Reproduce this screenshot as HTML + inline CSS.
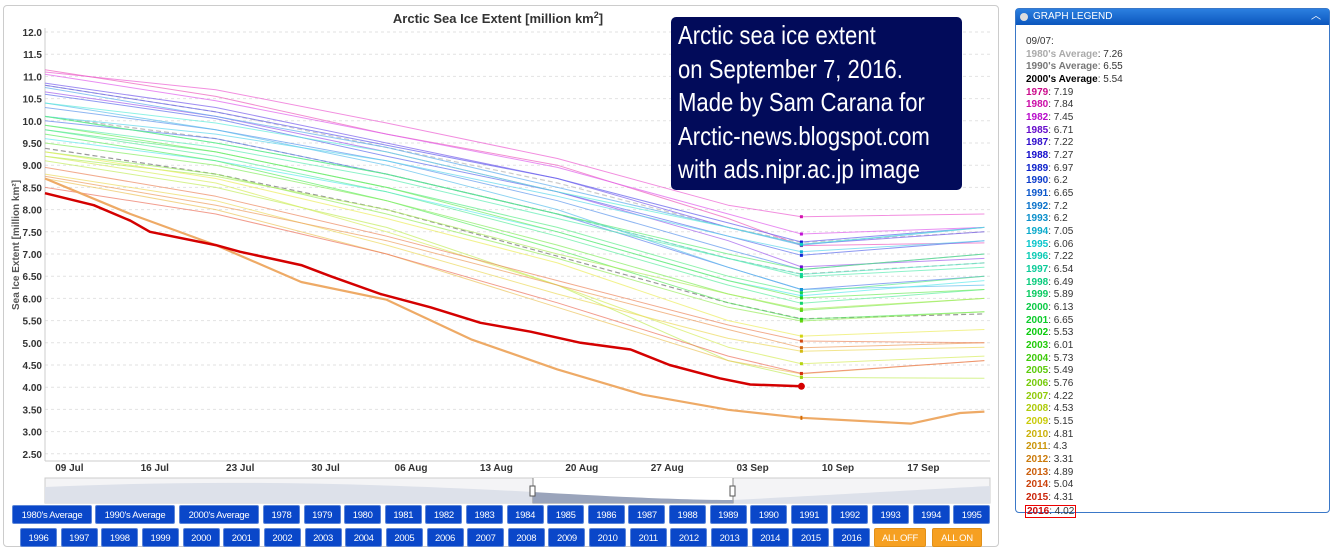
<!DOCTYPE html>
<html><head><meta charset="utf-8"><style>
body{margin:0;width:1340px;height:550px;background:#fff;font-family:"Liberation Sans",sans-serif;overflow:hidden;position:relative}
.btn{position:absolute;height:19px;background:#0a47c9;border:1px solid #5c86d8;border-radius:2px;color:#fff;font-size:9.5px;line-height:19px;text-align:center;box-sizing:border-box;letter-spacing:-0.3px}
.btn.or{background:#f6a021;border-color:#e0901a}
#legend{position:absolute;left:1015px;top:8px;width:315px;height:505px;border:1px solid #3a78c8;border-radius:4px;box-sizing:border-box}
#lhead{height:16px;background:linear-gradient(#2b7fe0,#0b56bd);color:#fff;font-size:10px;line-height:16px;padding-left:17px}
.li{position:absolute;left:10px;font-size:10px;color:#333;white-space:nowrap}
.li b{font-weight:bold}
#note{position:absolute;left:671px;top:17px;width:291px;height:173px;background:#020b5a;border-radius:5px;color:#fff;box-sizing:border-box;overflow:hidden}
#note div{position:absolute;left:7px;top:2px;font-size:26px;line-height:33.5px;white-space:nowrap;transform:scaleX(0.85);transform-origin:0 0}
</style></head><body>
<div style="position:absolute;left:3px;top:5px;width:996px;height:542px;border:1px solid #ccc;border-radius:4px;box-sizing:border-box"></div>
<svg id="chart" width="1000" height="505" style="position:absolute;left:0;top:0">
<text x="498" y="23" text-anchor="middle" font-size="13" font-weight="bold" fill="#333">Arctic Sea Ice Extent [million km<tspan dy="-5" font-size="9">2</tspan><tspan dy="5">]</tspan></text>
<text transform="translate(19,245) rotate(-90)" text-anchor="middle" font-size="10" font-weight="bold" fill="#555">Sea Ice Extent [million km²]</text>
<g id="grid"></g><g id="series"></g><g id="xlabels"></g>
<g>
<rect x="45" y="478" width="945" height="25" fill="#f4f4f6" stroke="#ccc"/>
<path d="M45,487 C200,480 350,482 533,492 L733,500 C850,494 950,488 990,486 L990,503 L45,503Z" fill="#dde1ea"/>
<path d="M533,478 L533,503 L733,503 L733,478" fill="#fff" stroke="#888"/>
<path d="M533,492 C600,496 680,500 733,500 L733,503 L533,503Z" fill="#9aa4bb"/>
<rect x="530" y="486" width="5" height="10" fill="#fff" stroke="#555"/><rect x="730" y="486" width="5" height="10" fill="#fff" stroke="#555"/>
</g>
</svg>
<div id="note"><div>Arctic sea ice extent<br>on September 7, 2016.<br>Made by Sam Carana for<br>Arctic-news.blogspot.com<br>with ads.nipr.ac.jp image</div></div>
<div id="buttons"></div>
<div id="legend"><div id="lhead">GRAPH LEGEND<span style="position:absolute;right:8px;top:0">︿</span><span style="position:absolute;left:4px;top:4px;width:8px;height:8px;border-radius:50%;background:#ddd"></span></div></div>
<script>
const NS='http://www.w3.org/2000/svg';
const yTicks=[12.0,11.5,11.0,10.5,10.0,9.5,9.0,8.5,8.0,7.5,7.0,6.5,6.0,5.5,5.0,4.5,4.0,3.5,3.0,2.5];
const yTickLabels=["12.0","11.5","11.0","10.5","10.0","9.50","9.00","8.50","8.00","7.50","7.00","6.50","6.00","5.50","5.00","4.50","4.00","3.50","3.00","2.50"];
const xTickLabels=["09 Jul","16 Jul","23 Jul","30 Jul","06 Aug","13 Aug","20 Aug","27 Aug","03 Sep","10 Sep","17 Sep"];
const xTickDays=[2,9,16,23,30,37,44,51,58,65,72];
const baseDays=[0,14,28,42,56,62,77];
const years=[1979,1980,1982,1985,1987,1988,1989,1990,1991,1992,1993,1994,1995,1996,1997,1998,1999,2000,2001,2002,2003,2004,2005,2006,2007,2008,2009,2010,2011,2013,2014,2015];
const yearValues=[
[11.15,10.55,9.7,9.0,7.8,7.19,7.25],[11.1,10.7,9.95,9.15,8.1,7.84,7.9],[11.05,10.45,9.7,8.95,7.9,7.45,7.6],
[10.65,10.1,9.3,8.4,7.3,6.71,6.9],[10.85,10.3,9.5,8.7,7.6,7.22,7.5],[10.8,10.2,9.45,8.7,7.7,7.27,7.6],
[10.6,10.05,9.2,8.4,7.4,6.97,7.3],[10.0,9.6,8.8,7.9,6.7,6.2,6.5],[10.3,9.8,9.1,8.2,7.1,6.65,7.0],
[10.75,10.1,9.4,8.5,7.6,7.2,7.6],[10.4,9.8,9.0,8.0,6.7,6.2,6.3],[10.1,9.7,9.1,8.3,7.4,7.05,7.3],
[9.6,9.1,8.4,7.5,6.4,6.06,6.4],[10.4,9.95,9.3,8.4,7.6,7.22,7.6],[10.1,9.5,8.8,7.9,6.9,6.54,6.8],
[9.9,9.4,8.7,7.8,6.9,6.49,6.7],[9.8,9.2,8.4,7.4,6.3,5.89,6.2],[9.8,9.3,8.5,7.6,6.5,6.13,6.5],
[10.1,9.5,8.8,7.9,7.0,6.65,7.0],[9.7,9.1,8.2,7.1,5.9,5.53,5.7],[9.9,9.3,8.5,7.5,6.4,6.01,6.2],
[9.5,9.0,8.2,7.2,6.1,5.73,6.0],[9.3,8.8,7.9,6.9,5.8,5.49,5.7],[9.2,8.75,8.0,7.0,6.1,5.76,6.0],
[9.1,8.5,7.6,6.3,4.6,4.22,4.2],[9.2,8.6,7.5,6.3,4.9,4.53,4.7],[9.3,8.7,7.8,6.8,5.5,5.15,5.3],
[8.8,8.2,7.2,6.1,5.1,4.81,4.9],[8.7,8.0,7.0,5.8,4.6,4.3,4.6],[8.75,8.1,7.3,6.3,5.3,4.89,5.0],
[8.95,8.3,7.4,6.4,5.4,5.04,5.0],[8.5,7.9,7.0,5.9,4.7,4.31,4.6]];
const avg80=[10.8,10.2,9.4,8.6,7.6,7.26,7.5];
const avg90=[10.1,9.6,8.8,7.9,6.9,6.55,6.8];
const avg00=[9.38,8.8,8.0,6.95,5.9,5.54,5.65];
const days2012=[0,7,14,21,28,35,42,49,56,62,71,75,77];
const vals2012=[8.7,7.9,7.2,6.37,5.97,5.07,4.4,3.83,3.49,3.31,3.18,3.42,3.45];
const days2016=[0,4,7,8.6,14,16,21,23.4,27.5,31.6,35.7,39.8,43.9,48,51.2,55.3,57.8,62];
const vals2016=[8.37,8.1,7.75,7.5,7.2,7.05,6.75,6.5,6.1,5.8,5.45,5.25,5.0,4.85,4.5,4.2,4.06,4.02];
const legendAvg=[["1980's Average",7.26,"#aaa"],["1990's Average",6.55,"#777"],["2000's Average",5.54,"#000"]];

const X=d=>45+d*12.2, Y=v=>32+(12-v)*44.4;
const hue=y=>Math.max(0,320-(y-1979)/37*320);
const grid=document.getElementById('grid'), ser=document.getElementById('series'), xl=document.getElementById('xlabels');
function mk(tag,attrs,parent){const e=document.createElementNS(NS,tag);for(const k in attrs)e.setAttribute(k,attrs[k]);parent.appendChild(e);return e;}
yTicks.forEach((t,i)=>{
  const l=mk('line',{x1:45,x2:990,y1:Y(t),y2:Y(t),stroke:'#e2e2e2','stroke-dasharray':'3,3'},grid);
  
  
  const tx=mk('text',{x:42,y:Y(t)+4,'text-anchor':'end','font-size':10,fill:'#333','font-weight':'bold'},grid);
  tx.textContent=yTickLabels[i];
  
  
});
const ax=mk('line',{x1:45,x2:45,y1:28,y2:461,stroke:'#ccc'},grid);


const bx=mk('line',{x1:45,x2:990,y1:461,y2:461,stroke:'#ccc'},grid);


xTickLabels.forEach((s,i)=>{
  const t=mk('text',{x:X(xTickDays[i]),y:471,'text-anchor':'middle','font-size':10,'font-weight':'bold',fill:'#333'},xl);
  t.textContent=s;
  
  
});
function line(days,vals,attrs,name){
  const d=days.map((dd,i)=>(i?'L':'M')+X(dd).toFixed(1)+','+Y(vals[i]).toFixed(1)).join(' ');
  const p=mk('path',Object.assign({d:d,fill:'none','stroke-linejoin':'round'},attrs),ser);
  
  
  return p;
}
line(baseDays,avg80,{stroke:'#ccc','stroke-width':1.2,'stroke-dasharray':'5,3'},'series-1980s-average');
line(baseDays,avg90,{stroke:'#bbb','stroke-width':1.2,'stroke-dasharray':'5,3'},'series-1990s-average');
line(baseDays,avg00,{stroke:'#999','stroke-width':1.2,'stroke-dasharray':'5,3'},'series-2000s-average');
years.forEach((yr,i)=>{
  line(baseDays,yearValues[i],{stroke:`hsl(${hue(yr)},80%,65%)`,'stroke-width':1,opacity:0.7},'series-'+yr);
  const m=mk('rect',{x:X(62)-1.5,y:Y(yearValues[i][5])-1.5,width:3,height:3,fill:`hsl(${hue(yr)},85%,45%)`},ser);
  
  
});
line(days2012,vals2012,{stroke:'#eeaa66','stroke-width':2.2},'series-2012');
const m12=mk('rect',{x:X(62)-1,y:Y(3.31)-2,width:2,height:4,fill:'#d66a00'},ser);


line(days2016,vals2016,{stroke:'#d40000','stroke-width':2.5},'series-2016');
const dot=mk('circle',{cx:X(62),cy:Y(4.02),r:3.5,fill:'#d40000'},ser);



const bc=document.getElementById('buttons');
function btn(label,x,y,w,cls,name){
  const b=document.createElement('div');b.className='btn'+(cls?' '+cls:'');
  b.style.left=x+'px';b.style.top=y+'px';b.style.width=w+'px';b.textContent=label;
  
  
  bc.appendChild(b);
}
btn("1980's Average",12,505,80,'','button-1980s-average');
btn("1990's Average",95,505,80,'','button-1990s-average');
btn("2000's Average",179,505,80,'','button-2000s-average');
for(let y=1978;y<=1995;y++)btn(String(y),263+(y-1978)*40.6,505,37,'','button-'+y);
for(let y=1996;y<=2016;y++)btn(String(y),20+(y-1996)*40.65,528,37,'','button-'+y);
btn("ALL OFF",874,528,52,'or','button-all-off');
btn("ALL ON",932,528,50,'or','button-all-on');

const lg=document.getElementById('legend');
const legYears=[1979,1980,1982,1985,1987,1988,1989,1990,1991,1992,1993,1994,1995,1996,1997,1998,1999,2000,2001,2002,2003,2004,2005,2006,2007,2008,2009,2010,2011,2012,2013,2014,2015,2016];
const legVals=["7.19","7.84","7.45","6.71","7.22","7.27","6.97","6.2","6.65","7.2","6.2","7.05","6.06","7.22","6.54","6.49","5.89","6.13","6.65","5.53","6.01","5.73","5.49","5.76","4.22","4.53","5.15","4.81","4.3","3.31","4.89","5.04","4.31","4.02"];
function li(html,i,name,extra){
  const d=document.createElement('div');d.className='li';d.style.top=(27+i*12.67)+'px';d.innerHTML=html;
  if(extra)d.style.cssText+=extra;
  
  
  lg.appendChild(d);
}
li('09/07:',0,'legend-date');
legendAvg.forEach((a,i)=>li(`<b style="color:${a[2]}">${a[0]}</b>: ${a[1]}`,i+1,'legend-entry-avg'));
legYears.forEach((y,i)=>li(`<b style="color:hsl(${hue(y)},90%,42%)">${y}</b>: ${legVals[i]}`,i+4,'legend-entry-'+y,y==2016?'border:1px solid #e00;padding:0 1px;left:9px;':''));
</script>
</body></html>
